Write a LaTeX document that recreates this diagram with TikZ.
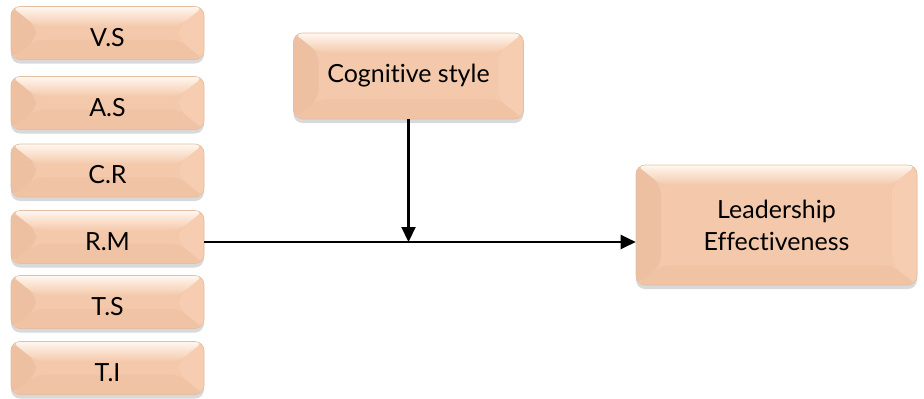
\documentclass[tikz,border=0pt]{standalone}
\usepackage{fontspec}
\setmainfont{Lato}[Ligatures=NoCommon]
\usetikzlibrary{calc,shadows,arrows.meta}
\definecolor{face}{HTML}{F4C9AB}
\definecolor{lbev}{HTML}{EDC0A2}
\definecolor{rbev}{HTML}{F6CDB1}
\definecolor{tbev}{HTML}{FFF7F0}
\definecolor{bbev}{HTML}{F0C3A5}
\definecolor{edgec}{HTML}{E2BEA4}
\tikzset{
  bevbox/.style={rounded corners=9pt, fill=face, draw=edgec, line width=0.6pt,
    drop shadow={opacity=0.3, shadow xshift=0pt, shadow yshift=-4pt},
    font=\fontsize{25}{32}\selectfont, text=black, align=center, inner sep=0pt,
    path picture={
      \coordinate (pnw) at (path picture bounding box.north west);
      \coordinate (pne) at (path picture bounding box.north east);
      \coordinate (psw) at (path picture bounding box.south west);
      \coordinate (pse) at (path picture bounding box.south east);
      \fill[bbev] (psw) -- ($(psw)+(25pt,20pt)$) -- ($(pse)+(-25pt,20pt)$) -- (pse) -- cycle;
      \shade[top color=tbev, bottom color=face] (pnw) -- (pne) -- ($(pne)+(-25pt,-20pt)$) -- ($(pnw)+(25pt,-20pt)$) -- cycle;
      \fill[lbev] (pnw) -- ($(pnw)+(25pt,-20pt)$) -- ($(psw)+(25pt,20pt)$) -- (psw) -- cycle;
      \fill[rbev] (pne) -- ($(pne)+(-25pt,-20pt)$) -- ($(pse)+(-25pt,20pt)$) -- (pse) -- cycle;
    }},
  small/.style={bevbox, minimum width=193pt, minimum height=53pt, text height=26pt, text depth=0pt},
  conn/.style={line width=2.2pt, -{Triangle[length=15pt,width=14pt]}}
}
\begin{document}
\begin{tikzpicture}[x=1pt,y=-1pt]
\useasboundingbox (0,0) rectangle (924,399);
\node[small] (vs) at (107.5,33) {V.S};
\node[small] (as) at (107.5,103) {A.S};
\node[small] (cr) at (107.5,170.5) {C.R};
\node[small] (rm) at (107.5,237) {R.M};
\node[small] (ts) at (107.5,302) {T.S};
\node[small] (ti) at (107.5,368) {T.I};
\node[bevbox, minimum width=230pt, minimum height=86pt] (cs) at (408.5,76) {Cognitive style};
\node[bevbox, minimum width=281pt, minimum height=120pt] (le) at (776.5,225) {Leadership\\Effectiveness};
\coordinate (j) at (408.5,242);
\draw[conn] (cs.south) -- (j);
\draw[conn] (rm.east |- j) -- (le.west |- j);
\end{tikzpicture}
\end{document}
